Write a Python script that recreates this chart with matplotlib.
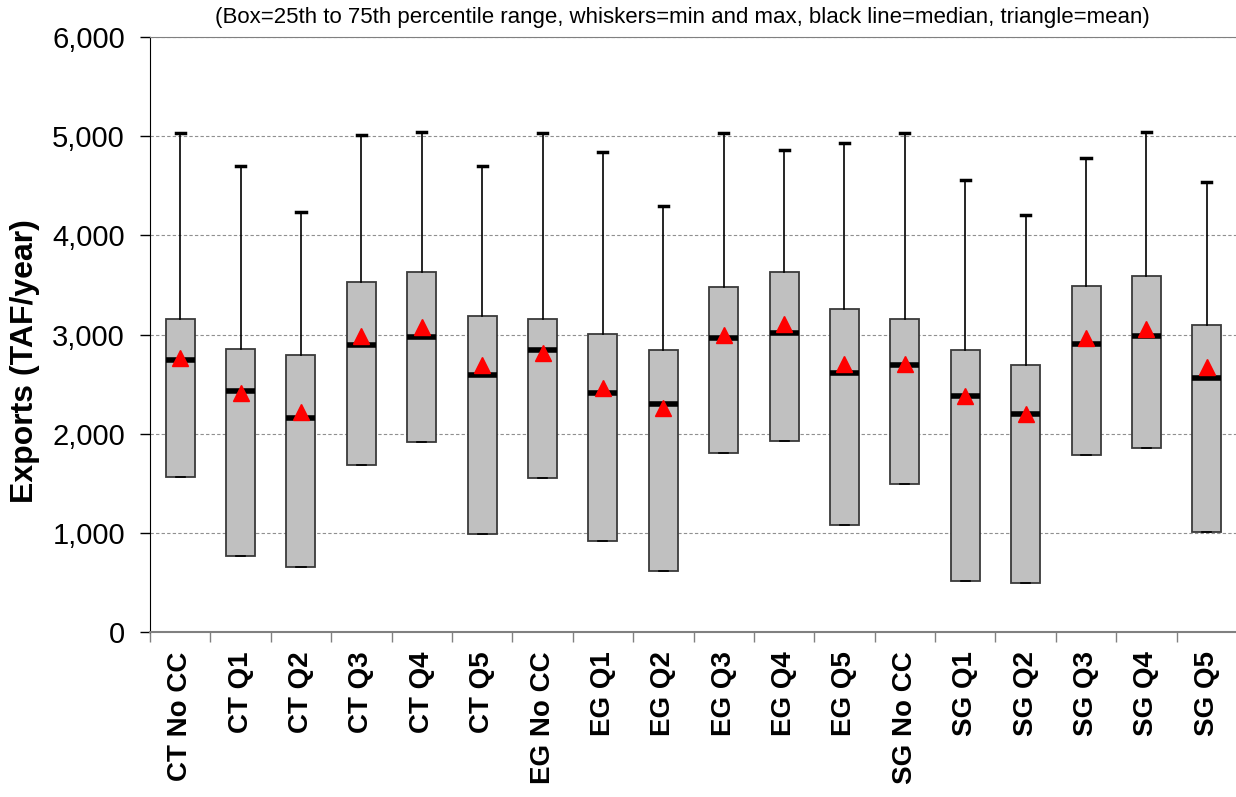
import numpy as np
import matplotlib
matplotlib.use('Agg')
import matplotlib.pyplot as plt
from matplotlib.ticker import FuncFormatter

plt.rcParams['font.family'] = ['Liberation Sans', 'DejaVu Sans']

# Scenario names
labels = ['CT No CC', 'CT Q1', 'CT Q2', 'CT Q3', 'CT Q4', 'CT Q5',
          'EG No CC', 'EG Q1', 'EG Q2', 'EG Q3', 'EG Q4', 'EG Q5',
          'SG No CC', 'SG Q1', 'SG Q2', 'SG Q3', 'SG Q4', 'SG Q5']

# Exports (TAF/year)
maxs = [5032, 4696, 4233, 5012, 5045, 4696, 5035, 4841, 4300,
        5035, 4864, 4935, 5035, 4559, 4209, 4778, 5045, 4542]
p75 = [3152, 2850, 2790, 3528, 3629, 3186, 3152, 3004, 2840,
       3481, 3629, 3256, 3155, 2840, 2689, 3494, 3585, 3099]
medians = [2739, 2434, 2162, 2897, 2974, 2588, 2840, 2410, 2296,
           2964, 3018, 2615, 2692, 2383, 2202, 2907, 2988, 2561]
means = [2766, 2410, 2219, 2981, 3075, 2689, 2817, 2464, 2263,
         2991, 3102, 2706, 2706, 2380, 2202, 2967, 3058, 2672]
# box bottom and min whisker sit at the same level in the chart
p25 = [1564, 765, 651, 1689, 1917, 987, 1554, 920, 617,
       1810, 1927, 1078, 1497, 517, 490, 1782, 1860, 1004]
mins = p25

stats = []
for i in range(len(labels)):
    stats.append(dict(label=labels[i], med=medians[i], q1=p25[i], q3=p75[i],
                      whislo=mins[i], whishi=maxs[i], mean=means[i], fliers=[]))

fig = plt.figure(figsize=(12.36, 7.97), dpi=100)
ax = fig.add_axes([150/1236, 1 - 632/797, 1087/1236, 595/797])

pos = np.arange(1, len(labels) + 1)
bp = ax.bxp(stats, positions=pos, widths=0.48, patch_artist=True,
            showmeans=True, showfliers=False, capwidths=0.15,
            boxprops=dict(facecolor='#c0c0c0', edgecolor='#3a3a3a', linewidth=1.3),
            medianprops=dict(color='black', linewidth=4, solid_capstyle='butt'),
            meanprops=dict(marker='^', markerfacecolor='#ff0000', markeredgecolor='#ff0000',
                           markersize=11),
            whiskerprops=dict(color='black', linewidth=1.2),
            capprops=dict(color='black', linewidth=2.5))
# thin caps at the bottom (min), thick caps on top (max)
for c in bp['caps'][0::2]:
    c.set_linewidth(1.2)

ax.set_xlim(0.5, len(labels) + 0.5)
ax.set_ylim(0, 6000)
ax.set_yticks(np.arange(0, 6001, 1000))
ax.yaxis.set_major_formatter(FuncFormatter(lambda v, p: '{:,.0f}'.format(v)))
ax.tick_params(axis='y', labelsize=21, length=7, width=1, pad=11, direction='out')

ax.set_xticks(pos)
ax.set_xticklabels(labels, rotation=90, fontsize=20, fontweight='bold', va='top')
ax.set_xticks(np.arange(0.5, len(labels) + 1, 1), minor=True)
ax.tick_params(axis='x', which='major', length=0, pad=14)
ax.tick_params(axis='x', which='minor', length=7, width=1, color='#808080')

ax.yaxis.grid(True, linestyle=(0, (3, 2)), color='#909090', linewidth=0.8)
ax.set_axisbelow(True)

ax.spines['right'].set_visible(False)
ax.spines['top'].set_color('#808080')
ax.spines['bottom'].set_color('#808080')
ax.spines['bottom'].set_linewidth(1.5)
ax.spines['left'].set_color('black')

ax.set_ylabel('Exports (TAF/year)', fontsize=23, fontweight='bold')
ax.yaxis.set_label_coords(-0.101, 0.455)

fig.text(682/1236, 1 - 18/797,
         '(Box=25th to 75th percentile range, whiskers=min and max, black line=median, triangle=mean)',
         ha='center', va='center', fontsize=16)

plt.savefig('out.png', dpi=100)
